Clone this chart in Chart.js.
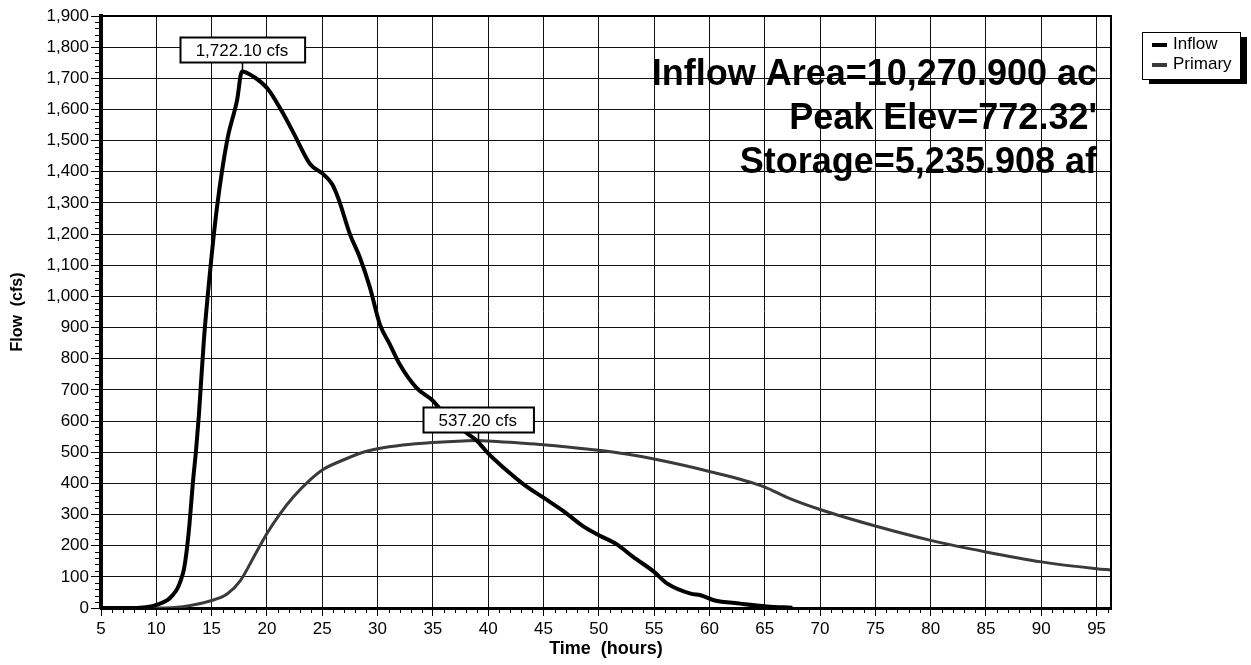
<!DOCTYPE html>
<html>
<head>
<meta charset="utf-8">
<style>
  html, body { margin: 0; padding: 0; background: #fff; }
  canvas { display: block; }
</style>
<script src="https://cdn.jsdelivr.net/npm/chart.js@4.4.1/dist/chart.umd.min.js"></script>
</head>
<body>
<canvas id="c" width="1251" height="665"></canvas>
<script>
// ---- data ----
const seriesNames = ['Inflow', 'Primary'];

const inflowTime = [5, 7, 8.5, 9.5, 10, 11, 11.5, 11.9, 12.2, 12.5, 12.75, 13.0, 13.3, 13.6, 13.85, 14.3, 15, 15.5, 16.4, 17.3, 17.74,
  18.8, 20.1, 21.35, 22.4, 23.9, 25, 25.9, 26.5, 27.5, 28.4, 29.3, 30.2, 31.1, 32, 33.5, 35, 36.3, 37.8, 39, 40,
  41.4, 43.2, 45, 46.8, 48.6, 50.1, 51.6, 53.1, 55, 56.2, 58.3, 59.2, 60.4, 62.8, 65.2, 67.5];
const inflowFlow = [0, 0, 1, 5, 10, 25, 42, 62, 88, 125, 185, 270, 400, 510, 620, 860, 1130, 1290, 1500, 1630, 1722.1,
  1705, 1665, 1594, 1525, 1425, 1395, 1360, 1310, 1200, 1125, 1030, 911, 847, 782, 707, 665, 611, 568, 536, 496,
  450, 397, 354, 311, 262, 232, 205, 164, 116, 78, 46, 41, 25, 14, 5, 1];

const primaryTime = [5, 10, 12.4, 15, 16.4, 17.6, 18.8, 20, 21.2, 22.4, 23.9, 25, 26.9, 28.7, 30, 32.3, 35, 37.7, 39.06,
  40, 42.6, 45, 47.4, 50, 52.5, 55, 60, 65, 67, 70, 75, 80, 85, 90, 95, 96.3];
const primaryFlow = [0, 0, 4, 24, 45, 88, 163, 239, 303, 357, 411, 443, 475, 500, 511, 523, 531, 536, 537.2,
  536, 530, 524, 516, 506, 494, 478, 438, 388, 355, 316, 263, 217, 180, 148, 126, 122];

const xTickValues = [5, 10, 15, 20, 25, 30, 35, 40, 45, 50, 55, 60, 65, 70, 75, 80, 85, 90, 95];
const yTickValues = [0, 100, 200, 300, 400, 500, 600, 700, 800, 900, 1000, 1100, 1200, 1300, 1400, 1500, 1600, 1700, 1800, 1900];

const calloutTime = [17.74, 39.06];
const calloutFlow = [1722.10, 537.20];
const calloutLabel = ['1,722.10 cfs', '537.20 cfs'];

const infoLines = ['Inflow Area=10,270.900 ac', 'Peak Elev=772.32\'', 'Storage=5,235.908 af'];

// ---- chart ----
const FONT = '"Liberation Sans", Arial, sans-serif';
const toPts = (xs, ys) => xs.map((x, i) => ({ x: x, y: ys[i] }));

const decorPlugin = {
  id: 'decor',
  beforeDraw(chart) {
    const ctx = chart.ctx;
    ctx.save();
    ctx.fillStyle = '#fff';
    ctx.fillRect(0, 0, chart.width, chart.height);
    ctx.restore();
  },
  afterDatasetsDraw(chart) {
    const ctx = chart.ctx;
    const a = chart.chartArea;
    const xs = chart.scales.x, ys = chart.scales.y;
    ctx.save();
    // frame top/right
    ctx.strokeStyle = '#000';
    ctx.lineWidth = 2;
    ctx.beginPath();
    ctx.moveTo(a.left, a.top);
    ctx.lineTo(a.right, a.top);
    ctx.lineTo(a.right, a.bottom);
    ctx.stroke();

    // minor ticks
    ctx.lineWidth = 1;
    for (let t = Math.ceil(xs.min); t <= xs.max; t++) {
      if (t % 5 === 0) continue;
      const px = Math.round(xs.getPixelForValue(t)) + 0.5;
      ctx.beginPath();
      ctx.moveTo(px, a.bottom);
      ctx.lineTo(px, a.bottom + 5);
      ctx.stroke();
    }
    for (let v = 0; v <= ys.max; v += 20) {
      if (v % 100 === 0) continue;
      const py = Math.round(ys.getPixelForValue(v)) + 0.5;
      ctx.beginPath();
      ctx.moveTo(a.left - 6, py);
      ctx.lineTo(a.left, py);
      ctx.stroke();
    }

    // info text
    ctx.fillStyle = '#000';
    ctx.font = 'bold 36px ' + FONT;
    ctx.textAlign = 'right';
    ctx.textBaseline = 'middle';
    const tx = a.right - 14;
    infoLines.forEach((s, i) => ctx.fillText(s, tx, 75 + i * 44));

    // callouts
    ctx.font = '17px ' + FONT;
    ctx.textAlign = 'center';
    ctx.textBaseline = 'middle';
    calloutLabel.forEach((lab, i) => {
      const px = xs.getPixelForValue(calloutTime[i]);
      const py = ys.getPixelForValue(calloutFlow[i]);
      const w = ctx.measureText(lab).width + 32;
      const h = 25;
      const bx = Math.round(px - w / 2) + 0.5;
      const by = Math.round(py - 9 - h) + 0.5;
      ctx.strokeStyle = '#000';
      ctx.lineWidth = 1.5;
      ctx.beginPath();
      ctx.moveTo(Math.round(px) + 0.5, by + h);
      ctx.lineTo(Math.round(px) + 0.5, py);
      ctx.stroke();
      ctx.fillStyle = '#fff';
      ctx.fillRect(bx, by, w, h);
      ctx.lineWidth = 2;
      ctx.strokeRect(bx, by, w, h);
      ctx.fillStyle = '#000';
      ctx.fillText(lab, px, by + h / 2 + 1);
    });

    // legend
    const lx = 1142, ly = 32, lw = 98, lh = 47;
    ctx.fillStyle = '#000';
    ctx.fillRect(lx + 7, ly + 5, lw, lh);
    ctx.fillStyle = '#fff';
    ctx.fillRect(lx, ly, lw, lh);
    ctx.strokeStyle = '#000';
    ctx.lineWidth = 1;
    ctx.strokeRect(lx + 0.5, ly + 0.5, lw, lh);
    ctx.font = '17px ' + FONT;
    ctx.textAlign = 'left';
    ctx.textBaseline = 'middle';
    const colors = ['#000', '#3a3a3a'];
    seriesNames.forEach((n, i) => {
      const cy = ly + 12 + i * 20;
      ctx.strokeStyle = colors[i];
      ctx.lineWidth = 4;
      ctx.beginPath();
      ctx.moveTo(lx + 10, cy + 1);
      ctx.lineTo(lx + 25, cy + 1);
      ctx.stroke();
      ctx.fillStyle = '#000';
      ctx.fillText(n, lx + 31, cy);
    });
    ctx.restore();
  }
};

new Chart(document.getElementById('c'), {
  type: 'line',
  data: {
    datasets: [
      {
        label: seriesNames[0],
        data: toPts(inflowTime, inflowFlow),
        borderColor: '#000',
        borderWidth: 4,
        pointRadius: 0,
        cubicInterpolationMode: 'monotone',
        fill: false
      },
      {
        label: seriesNames[1],
        data: toPts(primaryTime, primaryFlow),
        borderColor: '#3a3a3a',
        borderWidth: 3,
        pointRadius: 0,
        cubicInterpolationMode: 'monotone',
        fill: false
      }
    ]
  },
  options: {
    responsive: false,
    animation: false,
    devicePixelRatio: 1,
    layout: { padding: { left: 0, right: 140, top: 16, bottom: 0 } },
    plugins: { legend: { display: false }, tooltip: { enabled: false } },
    scales: {
      x: {
        type: 'linear',
        min: 5,
        max: 96.3,
        afterBuildTicks: s => { s.ticks = xTickValues.map(v => ({ value: v })); },
        afterFit: s => { s.height = 57; },
        ticks: { font: { family: FONT, size: 17 }, color: '#000', padding: 3, maxRotation: 0, autoSkip: false },
        grid: { color: '#111', lineWidth: 1, tickLength: 8, tickColor: '#000' },
        border: { color: '#000', width: 3 },
        title: { display: true, text: 'Time  (hours)', color: '#000', font: { family: FONT, size: 18, weight: 'bold' }, padding: { top: 0, bottom: 5 } }
      },
      y: {
        min: 0,
        max: 1900,
        afterBuildTicks: s => { s.ticks = yTickValues.map(v => ({ value: v })); },
        afterFit: s => { s.width = 101; },
        ticks: { font: { family: FONT, size: 17 }, color: '#000', padding: 2, autoSkip: false,
          callback: v => v.toLocaleString('en-US') },
        grid: { color: '#111', lineWidth: 1, tickLength: 10, tickColor: '#000' },
        border: { color: '#000', width: 4 },
        title: { display: true, text: 'Flow  (cfs)', color: '#000', font: { family: FONT, size: 16, weight: 'bold' }, padding: { top: 8, bottom: 0 } }
      }
    }
  },
  plugins: [decorPlugin]
});
</script>
</body>
</html>
